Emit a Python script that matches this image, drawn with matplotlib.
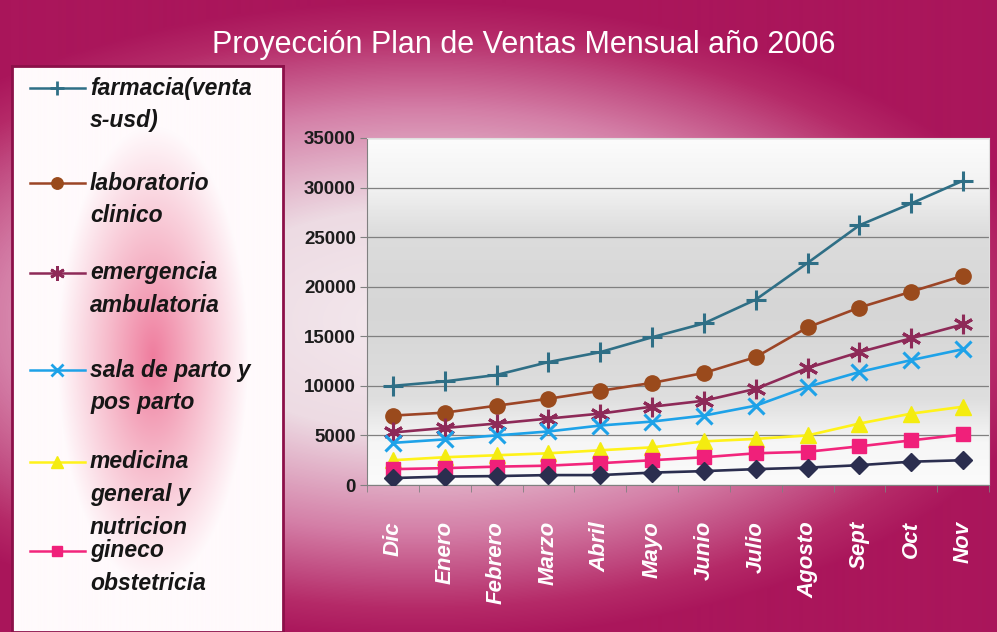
import numpy as np
import matplotlib.pyplot as plt
from matplotlib.colors import LinearSegmentedColormap

# Proyeccion plan de ventas mensual 2006 - lineas por servicio
plt.rcParams['font.family'] = ['Liberation Sans', 'DejaVu Sans']

meses = ['Dic', 'Enero', 'Febrero', 'Marzo', 'Abril', 'Mayo', 'Junio',
         'Julio', 'Agosto', 'Sept', 'Oct', 'Nov']

farmacia = [10000, 10450, 11100, 12400, 13400, 14900, 16300, 18700, 22400, 26200, 28400, 30700]
laboratorio = [7000, 7300, 8000, 8700, 9500, 10300, 11300, 12900, 15900, 17900, 19500, 21100]
emergencia = [5300, 5750, 6200, 6700, 7200, 7900, 8500, 9700, 11800, 13400, 14800, 16200]
sala_parto = [4250, 4600, 5000, 5400, 6000, 6400, 7000, 8000, 9900, 11400, 12600, 13700]
medicina = [2500, 2800, 3000, 3200, 3500, 3800, 4400, 4650, 5000, 6200, 7200, 7900]
gineco = [1600, 1700, 1850, 1950, 2200, 2500, 2800, 3200, 3350, 3900, 4500, 5100]
otros = [700, 850, 900, 1000, 1000, 1250, 1400, 1600, 1750, 2000, 2350, 2500]

etiquetas = [['farmacia(venta', 's-usd)'],
             ['laboratorio', 'clinico'],
             ['emergencia', 'ambulatoria'],
             ['sala de parto y', 'pos parto'],
             ['medicina', 'general y', 'nutricion'],
             ['gineco', 'obstetricia']]

# estilo de cada serie: (datos, color linea, marcador, color marcador, tamano)
series = [
    (farmacia, '#2f6f86', '+', '#2f6f86', 14),
    (laboratorio, '#9c4526', 'o', '#9a4a1c', 11),
    (emergencia, '#8e2a58', (6, 2, 0), '#8e2a58', 14),
    (sala_parto, '#1ea2e8', 'x', '#1ea2e8', 12),
    (medicina, '#fff21a', '^', '#f4ec10', 12),
    (gineco, '#f2257c', 's', '#f0207a', 10),
    (otros, '#2b2e4f', 'D', '#2b2e4f', 9),
]

W, H = 997, 632
fig = plt.figure(figsize=(W / 100, H / 100), dpi=100)

# fondo degradado magenta
bg = fig.add_axes([0, 0, 1, 1])
bg.axis('off')
yy, xx = np.mgrid[0:H, 0:W]
d = np.sqrt(((xx - 420) / 640.0) ** 2 + ((yy - 320) / 320.0) ** 2)
cmap_bg = LinearSegmentedColormap.from_list(
    'bg', [(0, '#f4e9ee'), (0.35, '#eddbe3'), (0.66, '#d47fa7'), (0.9, '#b52a68'), (1, '#aa165b')])
bg.imshow(np.clip(d, 0, 1), cmap=cmap_bg, vmin=0, vmax=1,
          extent=[0, W, H, 0], aspect='auto')
bg.set_xlim(0, W)
bg.set_ylim(H, 0)

fig.text(524 / W, 1 - 45 / H, 'Proyección Plan de Ventas Mensual año 2006',
         color='white', fontsize=22, ha='center', va='center')

# cuadro de leyenda
lg = fig.add_axes([12 / W, 0, 271 / W, 566 / H])
lw_, lh_ = 271, 566
gy, gx = np.mgrid[0:lh_, 0:lw_]
gd = np.sqrt(((gx - 140) / 95.0) ** 2 + ((gy - 290) / 230.0) ** 2)
cmap_lg = LinearSegmentedColormap.from_list(
    'lg', [(0, '#ef7d9e'), (0.45, '#f6b8c9'), (1, '#fffafc')])
lg.imshow(np.clip(gd, 0, 1), cmap=cmap_lg, vmin=0, vmax=1,
          extent=[0, lw_, lh_, 0], aspect='auto')
lg.set_xlim(0, lw_)
lg.set_ylim(lh_, 0)
lg.set_xticks([])
lg.set_yticks([])
for s in lg.spines.values():
    s.set_color('#8c1049')
    s.set_linewidth(2)

entrada_y = [22, 117, 207, 304, 396, 485]
for (datos, col, mk, mcol, ms), lab, y0 in zip(series, etiquetas, entrada_y):
    lg.plot([18, 73], [y0, y0], color=col, lw=1.8)
    lg.plot([45], [y0], marker=mk, color=mcol, ms=ms * 0.75,
            mew=2 if mk in ('+', 'x', (6, 2, 0)) else 1, mec=mcol)
    for i, linea in enumerate(lab):
        lg.text(78, y0 + i * 33, linea, fontsize=16.5, fontweight='bold',
                fontstyle='italic', color='#161616', va='center', ha='left')

# grafico principal
ax = fig.add_axes([367 / W, 1 - 485 / H, 622 / W, 347 / H])
x = np.arange(len(meses))

grad = np.linspace(0, 1, 200).reshape(-1, 1)
cmap_pl = LinearSegmentedColormap.from_list(
    'pl', [(0, '#fbfbfb'), (0.12, '#f6f6f6'), (0.25, '#dedede'),
           (0.5, '#d6d6d6'), (0.72, '#dcdcdc'), (0.86, '#f2f2f2'), (1, '#fcfcfc')])
ax.imshow(grad, cmap=cmap_pl, extent=[-0.5, 11.5, 35000, 0], aspect='auto', zorder=0)

for datos, col, mk, mcol, ms in series:
    ax.plot(x, datos, color=col, lw=1.9, marker=mk, ms=ms, mfc=mcol, mec=mcol,
            mew=2.2 if mk in ('+', 'x', (6, 2, 0)) else 1, zorder=3)

ax.set_xlim(-0.5, 11.5)
ax.set_ylim(0, 35000)
ax.set_yticks(range(0, 35001, 5000))
ax.set_yticklabels([str(v) for v in range(0, 35001, 5000)],
                   fontsize=13.5, fontweight='bold', color='#1c1c1c')
ax.grid(axis='y', color='#808080', lw=0.9, zorder=1)
ax.set_axisbelow(True)

ax.set_xticks(x)
ax.set_xticklabels(meses, rotation=90, fontsize=16, fontweight='bold',
                   fontstyle='italic', color='white')
ax.set_xticks(np.arange(-0.5, 12, 1), minor=True)
ax.tick_params(axis='x', which='major', length=0, pad=26)
ax.tick_params(axis='x', which='minor', length=5, color='#808080')
ax.tick_params(axis='y', length=5, color='#808080', pad=3)

for side in ['left', 'bottom']:
    ax.spines[side].set_color('#808080')
for side in ['top', 'right']:
    ax.spines[side].set_color('#e0e0e0')

fig.savefig('out.png', dpi=100)
